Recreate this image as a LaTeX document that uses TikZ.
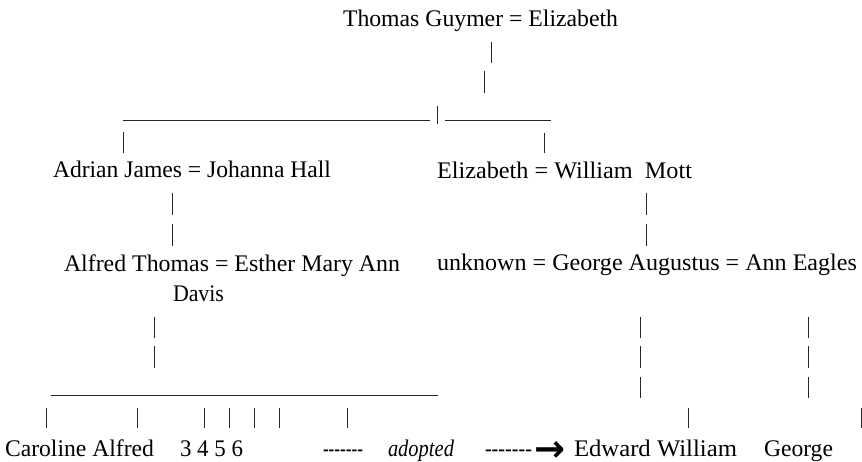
\documentclass[tikz,border=0pt]{standalone}
\usepackage{fontspec}
\setmainfont{Liberation Serif}
\newfontfamily\arrowfont{DejaVu Sans}
\newcommand{\fitw}[2]{\resizebox{#1pt}{\height}{#2}}
\newcommand{\hy}{\mbox{-}}
\newcommand{\sevenhy}{\hy\hy\hy\hy\hy\hy\hy}
\begin{document}
\begin{tikzpicture}[x=1pt,y=-1pt,
  txt/.style={anchor=base west,inner sep=0pt,outer sep=0pt,font=\fontsize{23.8}{28}\selectfont},
  bar/.style={line width=0.9pt,black!85},
  rule/.style={line width=0.9pt,black!85}]
\fill[white] (0,0) rectangle (862,462);
\useasboundingbox (0,0) rectangle (862,462);
% generation 1
\node[txt] (top) at (343,27) {\fitw{275}{Thomas Guymer = Elizabeth}};
% generation 2
\node[txt] (adrian) at (53,178) {\fitw{278}{Adrian James = Johanna Hall}};
\node[txt] (eliz) at (437,179) {\fitw{255}{Elizabeth = William\ \ Mott}};
% generation 3
\node[txt] (alfred) at (64,272) {\fitw{336}{Alfred Thomas = Esther Mary Ann}};
\node[txt] (davis) at (173,302) {\fitw{51}{Davis}};
\node[txt] (george) at (437,271) {\fitw{420}{unknown = George Augustus = Ann Eagles}};
% generation 4
\node[txt] (caroline) at (5,456) {\fitw{149}{Caroline Alfred}};
\node[txt] (nums) at (180,456) {\fitw{63}{3 4 5 6}};
\node[txt] (dashA) at (323,456) {\fitw{40}{\sevenhy}};
\node[txt] (adopted) at (388,456) {\fitw{66}{\itshape adopted}};
\node[txt] (dashB) at (485,456) {\fitw{47}{\sevenhy}};
\node[txt] (arrow) at (534,461) {\resizebox{31pt}{!}{\arrowfont\bfseries →}};
\node[txt] (edward) at (574,456) {\fitw{163}{Edward William}};
\node[txt] (georgeb) at (764,456) {\fitw{69}{George}};
% horizontal rules
\draw[rule] (123,120) -- (430,120);
\draw[rule] (445,120) -- (551,120);
\draw[rule] (51,395) -- (438,395);
% vertical bars
\draw[bar] (491,42) -- (491,63);
\draw[bar] (484,71) -- (484,93);
\draw[bar] (437,106) -- (437,124);
\draw[bar] (123,132) -- (123,153);
\draw[bar] (544,133) -- (544,153);
\foreach \x in {172,646}{
  \draw[bar] (\x,193) -- (\x,215);
  \draw[bar] (\x,224) -- (\x,246);
}
\draw[bar] (154,317) -- (154,338);
\draw[bar] (154,346) -- (154,368);
\foreach \x in {640,808}{
  \draw[bar] (\x,317) -- (\x,338);
  \draw[bar] (\x,346) -- (\x,368);
  \draw[bar] (\x,377) -- (\x,398);
}
\foreach \x in {46,137,204,229,254,279,347,688,861.3}{
  \draw[bar] (\x,408) -- (\x,428);
}
\end{tikzpicture}
\end{document}
